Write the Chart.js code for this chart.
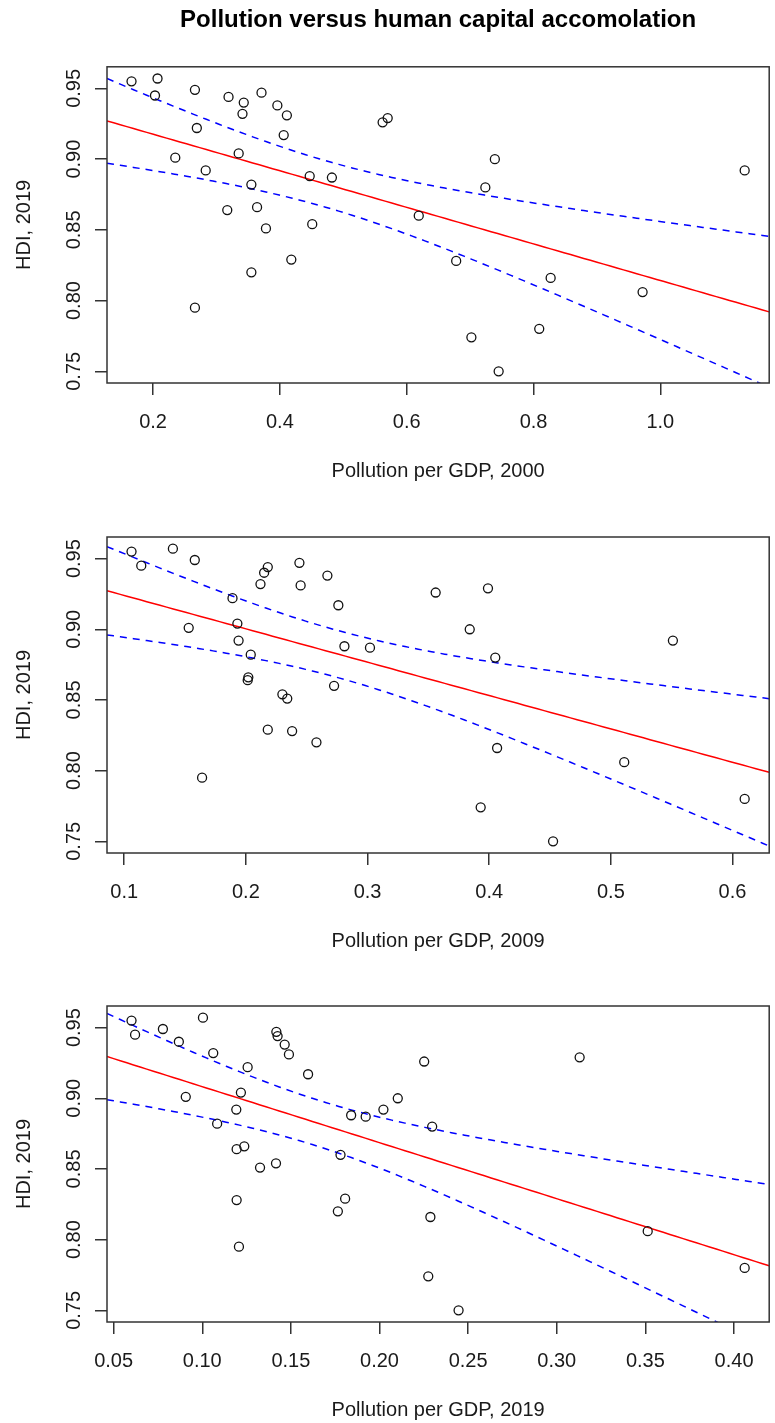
<!DOCTYPE html>
<html>
<head>
<meta charset="utf-8">
<title>Pollution versus human capital accomolation</title>
<script src="https://cdn.jsdelivr.net/npm/chart.js@4.4.0/dist/chart.umd.min.js"></script>
<style>
    body { margin: 0; background: #fff; }
    #page { position: relative; width: 775px; height: 1423px; overflow: hidden; }
    .panel { position: absolute; left: 0; width: 775px; height: 484px; }
</style>
</head>
<body>
<div id="page">
    <div class="panel" style="top: 0px;"><canvas id="chart2000" width="775" height="484"></canvas></div>
    <div class="panel" style="top: 470px;"><canvas id="chart2009" width="775" height="484"></canvas></div>
    <div class="panel" style="top: 939px;"><canvas id="chart2019" width="775" height="484"></canvas></div>
</div>
<script>
// Pollution per GDP (x) and HDI 2019 (y), one pair of arrays per panel
const pollution2000 = [0.166, 0.207, 0.203, 0.266, 0.319, 0.343, 0.371, 0.341, 0.396, 0.411,
    0.269, 0.406, 0.235, 0.335, 0.283, 0.355, 0.447, 0.482, 0.317, 0.364,
    0.378, 0.451, 0.418, 0.355, 0.266, 0.562, 0.570, 0.619, 0.739, 0.724,
    1.133, 0.678, 0.827, 0.972, 0.702, 0.809, 0.745];
const hdiVs2000 = [0.955, 0.957, 0.945, 0.949, 0.944, 0.940, 0.947, 0.932, 0.938, 0.931,
    0.922, 0.917, 0.901, 0.904, 0.892, 0.882, 0.888, 0.887, 0.864, 0.866,
    0.851, 0.854, 0.829, 0.820, 0.795, 0.926, 0.929, 0.860, 0.900, 0.880,
    0.892, 0.828, 0.816, 0.806, 0.774, 0.780, 0.750];

const pollution2009 = [0.106, 0.114, 0.140, 0.158, 0.218, 0.215, 0.212, 0.244, 0.245, 0.267,
    0.189, 0.276, 0.153, 0.193, 0.194, 0.204, 0.281, 0.302, 0.202, 0.2015,
    0.2725, 0.230, 0.234, 0.218, 0.238, 0.258, 0.164, 0.356, 0.399, 0.384,
    0.405, 0.551, 0.4065, 0.511, 0.393, 0.4525, 0.610];
const hdiVs2009 = [0.955, 0.945, 0.957, 0.949, 0.944, 0.940, 0.932, 0.947, 0.931, 0.938,
    0.922, 0.917, 0.901, 0.904, 0.892, 0.882, 0.888, 0.887, 0.866, 0.864,
    0.860, 0.854, 0.851, 0.829, 0.828, 0.820, 0.795, 0.926, 0.929, 0.900,
    0.880, 0.892, 0.816, 0.806, 0.774, 0.750, 0.780];

const pollution2019 = [0.0601, 0.0621, 0.0778, 0.1004, 0.0868, 0.1062, 0.1418, 0.1425, 0.1465, 0.1489,
    0.1256, 0.1597, 0.1218, 0.0907, 0.1192, 0.1084, 0.1194, 0.1237, 0.1326, 0.1416,
    0.1194, 0.1207, 0.184, 0.1922, 0.2022, 0.2103, 0.2252, 0.2297, 0.178, 0.1765,
    0.1806, 0.2287, 0.2275, 0.2446, 0.3129, 0.3513, 0.406];
const hdiVs2019 = [0.955, 0.945, 0.949, 0.957, 0.940, 0.932, 0.947, 0.944, 0.938, 0.931,
    0.922, 0.917, 0.904, 0.901, 0.892, 0.882, 0.864, 0.866, 0.851, 0.854,
    0.828, 0.795, 0.888, 0.887, 0.892, 0.900, 0.926, 0.880, 0.860, 0.820,
    0.829, 0.816, 0.774, 0.750, 0.929, 0.806, 0.780];

// x tick step and decimals per panel, y ticks shared
const xTickSteps = [0.2, 0.1, 0.05];
const xTickDecimals = [1, 1, 2];
const yTickStep = 0.05;
const yTickDecimals = 2;

const xTitles = ['Pollution per GDP, 2000', 'Pollution per GDP, 2009', 'Pollution per GDP, 2019'];
const yTitle = 'HDI, 2019';
const mainTitle = 'Pollution versus human capital accomolation';

const tQuantile = 2.030; // qt(0.975, 35)
const FONT = '"Liberation Sans", Arial, Helvetica, sans-serif';

function mean(arr) {
    return arr.reduce((s, v) => s + v, 0) / arr.length;
}

// R style axis limits: data range plus 4% each side
function paddedRange(arr) {
    const lo = Math.min(...arr), hi = Math.max(...arr);
    const ext = (hi - lo) * 0.04;
    return [lo - ext, hi + ext];
}

// OLS line and 95% confidence band for the mean
function fitBands(xs, ys, lo, hi) {
    const n = xs.length;
    const mx = mean(xs), my = mean(ys);
    let sxx = 0, sxy = 0;
    for (let i = 0; i < n; i++) {
        sxx += (xs[i] - mx) * (xs[i] - mx);
        sxy += (xs[i] - mx) * (ys[i] - my);
    }
    const b = sxy / sxx;
    const a = my - b * mx;
    let sse = 0;
    for (let i = 0; i < n; i++) {
        const r = ys[i] - (a + b * xs[i]);
        sse += r * r;
    }
    const s = Math.sqrt(sse / (n - 2));
    const fit = [], upper = [], lower = [];
    const steps = 100;
    for (let i = 0; i <= steps; i++) {
        const x = lo + (hi - lo) * i / steps;
        const yh = a + b * x;
        const half = tQuantile * s * Math.sqrt(1 / n + (x - mx) * (x - mx) / sxx);
        fit.push({ x: x, y: yh });
        upper.push({ x: x, y: yh + half });
        lower.push({ x: x, y: yh - half });
    }
    return { fit, upper, lower };
}

const boxAndYLabels = {
    id: 'boxAndYLabels',
    afterDraw(chart) {
        const { ctx, chartArea: a } = chart;
        const yScale = chart.scales.y;
        ctx.save();
        ctx.strokeStyle = '#333';
        ctx.lineWidth = 1.5;
        ctx.strokeRect(a.left, a.top, a.right - a.left, a.bottom - a.top);
        ctx.fillStyle = '#1a1a1a';
        ctx.font = '20px ' + FONT;
        ctx.textAlign = 'center';
        ctx.textBaseline = 'alphabetic';
        yScale.ticks.forEach(t => {
            const py = yScale.getPixelForValue(t.value);
            ctx.save();
            ctx.translate(80, py);
            ctx.rotate(-Math.PI / 2);
            ctx.fillText(t.value.toFixed(yTickDecimals), 0, 0);
            ctx.restore();
        });
        ctx.restore();
    }
};

function makePanel(canvasId, xs, ys, idx, withTitle) {
    const xr = paddedRange(xs);
    const yr = paddedRange(ys);
    const bands = fitBands(xs, ys, xr[0], xr[1]);
    const points = xs.map((x, i) => ({ x: x, y: ys[i] }));

    const ctx = document.getElementById(canvasId).getContext('2d');
    return new Chart(ctx, {
        type: 'scatter',
        data: {
            datasets: [
                {
                    data: points,
                    pointStyle: 'circle',
                    pointRadius: 4.5,
                    pointHoverRadius: 4.5,
                    borderColor: '#111',
                    backgroundColor: 'rgba(0,0,0,0)',
                    borderWidth: 1.3,
                    showLine: false
                },
                {
                    type: 'line',
                    data: bands.fit,
                    borderColor: 'rgb(255, 0, 0)',
                    borderWidth: 1.5,
                    pointRadius: 0,
                    fill: false
                },
                {
                    type: 'line',
                    data: bands.upper,
                    borderColor: 'rgb(0, 0, 255)',
                    borderWidth: 1.5,
                    borderDash: [7, 6],
                    pointRadius: 0,
                    fill: false
                },
                {
                    type: 'line',
                    data: bands.lower,
                    borderColor: 'rgb(0, 0, 255)',
                    borderWidth: 1.5,
                    borderDash: [7, 6],
                    pointRadius: 0,
                    fill: false
                }
            ]
        },
        options: {
            responsive: false,
            animation: false,
            events: [],
            layout: {
                padding: { top: withTitle ? 0 : 67, left: 0, right: 1.5, bottom: 0 }
            },
            plugins: {
                legend: { display: false },
                tooltip: { enabled: false },
                title: {
                    display: withTitle,
                    text: mainTitle,
                    fullSize: false,
                    color: '#000',
                    font: { family: FONT, size: 24, weight: 'bold' },
                    padding: { top: 6, bottom: 32 }
                }
            },
            scales: {
                x: {
                    type: 'linear',
                    min: xr[0],
                    max: xr[1],
                    afterFit: function (scale) { scale.height = 101; },
                    grid: { drawOnChartArea: false, drawTicks: true, tickLength: 12, color: '#333', lineWidth: 1.5 },
                    border: { display: false },
                    ticks: {
                        stepSize: xTickSteps[idx],
                        includeBounds: false,
                        maxRotation: 0,
                        padding: 15,
                        color: '#1a1a1a',
                        font: { family: FONT, size: 20 },
                        callback: v => v.toFixed(xTickDecimals[idx])
                    },
                    title: {
                        display: true,
                        text: xTitles[idx],
                        color: '#1a1a1a',
                        font: { family: FONT, size: 20 },
                        padding: { top: 0, bottom: 1 }
                    }
                },
                y: {
                    type: 'linear',
                    min: yr[0],
                    max: yr[1],
                    afterFit: function (scale) { scale.width = 107; },
                    grid: { drawOnChartArea: false, drawTicks: true, tickLength: 12, color: '#333', lineWidth: 1.5 },
                    border: { display: false },
                    ticks: {
                        stepSize: yTickStep,
                        includeBounds: false,
                        display: false
                    },
                    title: {
                        display: true,
                        text: yTitle,
                        color: '#1a1a1a',
                        font: { family: FONT, size: 20 },
                        padding: { top: 12, bottom: 0 }
                    }
                }
            }
        },
        plugins: [boxAndYLabels]
    });
}

makePanel('chart2000', pollution2000, hdiVs2000, 0, true);
makePanel('chart2009', pollution2009, hdiVs2009, 1, false);
makePanel('chart2019', pollution2019, hdiVs2019, 2, false);
</script>
</body>
</html>
